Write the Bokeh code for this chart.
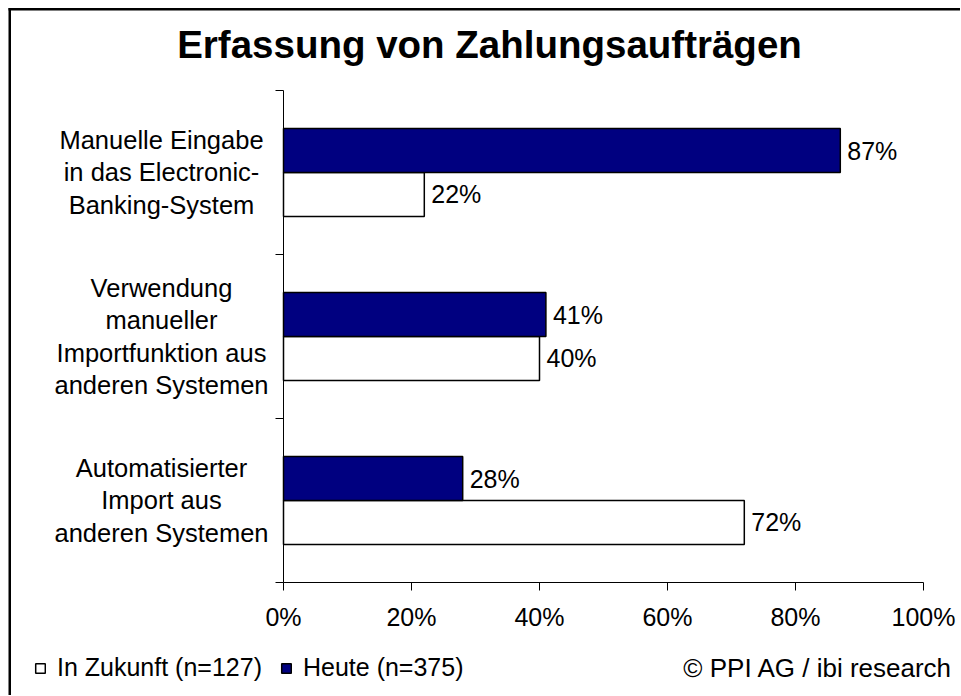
from bokeh.plotting import figure
from bokeh.models import (ColumnDataSource, Range1d, FixedTicker, LabelSet, Label,
                          Legend, LegendItem, LinearAxis, BoxAnnotation)
from bokeh.core.properties import value
from bokeh.embed import file_html
from bokeh.resources import INLINE

# ---- data ----
categories = ["Manuelle Eingabe\nin das Electronic-\nBanking-System",
              "Verwendung\nmanueller\nImportfunktion aus\nanderen Systemen",
              "Automatisierter\nImport aus\nanderen Systemen"]
heute = [87, 41, 28]
zukunft = [22, 40, 72]
series_names = ["In Zukunft (n=127)", "Heute (n=375)"]
x_ticks = [0, 20, 40, 60, 80, 100]
title_text = "Erfassung von Zahlungsaufträgen"
source_text = "© PPI AG / ibi research"

FONT = "Liberation Sans"
FS = "25px"
NAVY = "#000080"

# ---- layout geometry (canvas pixels) ----
W, H = 960, 695
PX0, PX100 = 283.0, 923.0      # x=0 and x=100
PY_TOP, PY_BOT = 90.0, 582.0   # top of first band, x axis
n = len(categories)
sx = (PX100 - PX0) / 100.0
sy = (PY_BOT - PY_TOP) / n


def px_to_x(px):
    return (px - PX0) / sx


def py_to_y(py):
    return (PY_BOT - py) / sy


centers = [n - i - 0.5 for i in range(n)]
half = 0.134
bar_h = 0.268

src_h = ColumnDataSource(dict(y=[c + half for c in centers], v=heute,
                              t=[f"{v}%" for v in heute]))
src_z = ColumnDataSource(dict(y=[c - half for c in centers], v=zukunft,
                              t=[f"{v}%" for v in zukunft]))
src_c = ColumnDataSource(dict(x=[px_to_x(161)] * n, y=centers, t=categories))

p = figure(width=W, height=H, output_backend="svg", toolbar_location=None,
           x_range=Range1d(px_to_x(0), px_to_x(W)),
           y_range=Range1d(py_to_y(H), py_to_y(0)),
           x_axis_location=None, y_axis_location=None,
           min_border=0, min_border_left=0, min_border_right=0,
           min_border_top=0, min_border_bottom=0)
p.title.visible = False
p.outline_line_color = None
p.grid.visible = False
p.background_fill_color = "white"
p.border_fill_color = "white"

# outer frame (left and top edges visible, as in the reference)
p.add_layout(BoxAnnotation(left=px_to_x(8), right=px_to_x(10.5),
                           top=py_to_y(7.5), bottom=py_to_y(H + 5),
                           fill_color="black", fill_alpha=1, line_color=None))
p.add_layout(BoxAnnotation(left=px_to_x(8), right=px_to_x(W + 5),
                           top=py_to_y(7.5), bottom=py_to_y(10),
                           fill_color="black", fill_alpha=1, line_color=None))

rz = p.hbar(y="y", right="v", left=0, height=bar_h, source=src_z,
            fill_color="white", line_color="black", line_width=1.5)
rh = p.hbar(y="y", right="v", left=0, height=bar_h, source=src_h,
            fill_color=NAVY, line_color="black", line_width=1.5)

for s in (src_h, src_z):
    p.add_layout(LabelSet(x="v", y="y", text="t", source=s, x_offset=7,
                          text_baseline="middle", text_align="left",
                          text_font=value(FONT), text_font_size=value(FS),
                          text_color="black"))

# category labels
p.text(x="x", y="y", text="t", source=src_c, text_align="center",
       text_baseline="middle", text_font=value(FONT), text_font_size=value("25.5px"),
       text_line_height=1.15, text_color="black")

# x axis (fixed at y=0)
xa = LinearAxis(fixed_location=0, bounds=(0, 100))
xa.ticker = FixedTicker(ticks=x_ticks)
xa.major_label_overrides = {t: f"{t}%" for t in x_ticks}
xa.major_tick_out = 8
xa.major_tick_in = 0
xa.minor_tick_line_color = None
xa.axis_line_color = "black"
xa.major_tick_line_color = "black"
xa.major_label_text_font = FONT
xa.major_label_text_font_size = FS
xa.major_label_text_color = "black"
xa.major_label_standoff = 12
p.add_layout(xa, "below")

# y axis (fixed at x=0): ticks at category boundaries, no labels
ya = LinearAxis(fixed_location=0, bounds=(0, n))
ya.ticker = FixedTicker(ticks=[], minor_ticks=list(range(n + 1)))
ya.minor_tick_out = 8
ya.minor_tick_in = 0
ya.major_tick_line_color = None
ya.minor_tick_line_color = "black"
ya.axis_line_color = "black"
p.add_layout(ya, "left")

# title
p.add_layout(Label(x=px_to_x(489), y=py_to_y(44), text=title_text,
                   text_align="center", text_baseline="middle",
                   text_font=FONT, text_font_size="38.5px", text_font_style="bold",
                   text_color="black"))
# source
p.add_layout(Label(x=px_to_x(952), y=py_to_y(667), text=source_text,
                   text_align="right", text_baseline="middle",
                   text_font=FONT, text_font_size="26px", text_color="black"))

legend = Legend(items=[LegendItem(label=series_names[0], renderers=[rz]),
                       LegendItem(label=series_names[1], renderers=[rh])],
                orientation="horizontal", location=(34, H - 682),
                glyph_width=12, glyph_height=12, label_standoff=11, spacing=18,
                padding=0, margin=0, border_line_color=None,
                background_fill_alpha=0,
                label_text_font=FONT, label_text_font_size=FS,
                label_text_color="black")
p.add_layout(legend, "center")

open("out.html", "w").write(file_html(p, INLINE))
